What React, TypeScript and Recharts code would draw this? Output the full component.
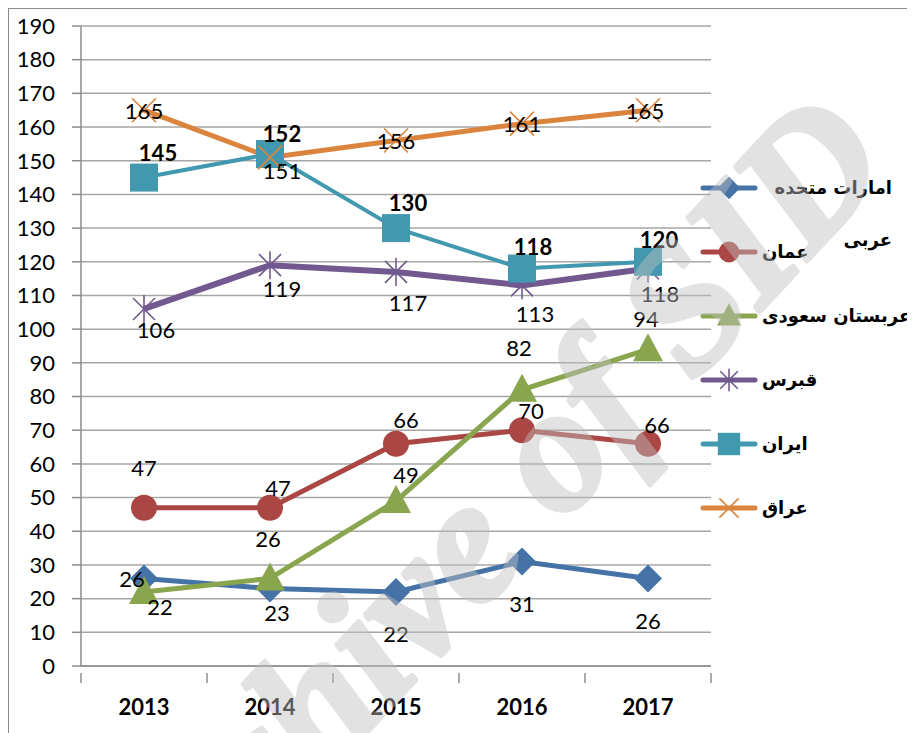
import React from "react";
import { LineChart, Line, XAxis, YAxis, CartesianGrid, LabelList } from "recharts";

const years = ["2013", "2014", "2015", "2016", "2017"];
const uae = [26, 23, 22, 31, 26];
const oman = [47, 47, 66, 70, 66];
const saudi = [22, 26, 49, 82, 94];
const cyprus = [106, 119, 117, 113, 118];
const iran = [145, 152, 130, 118, 120];
const iraq = [165, 151, 156, 161, 165];
const yTicks = [0, 10, 20, 30, 40, 50, 60, 70, 80, 90, 100, 110, 120, 130, 140, 150, 160, 170, 180, 190];

const FONT = "Lato, 'DejaVu Sans', sans-serif";

type Marker = "diamond" | "circle" | "triangle" | "star" | "square" | "x";
type Series = {
  key: string;
  name: string;
  values: number[];
  color: string;
  width: number;
  marker: Marker;
  bold?: boolean;
  // label placement relative to the point (dx, dy)
  offsets: [number, number][];
  legendWrap?: number;
};

const SERIES: Series[] = [
  { key: "uae", name: "امارات متحده عربی", values: uae, color: "#4572A7", width: 5, marker: "diamond",
    offsets: [[-12, 0], [7, 24], [0, 42], [0, 42], [0, 42]], legendWrap: 130 },
  { key: "oman", name: "عمان", values: oman, color: "#AA4643", width: 5, marker: "circle",
    offsets: [[0, -40], [8, -20], [10, -24], [9, -20], [9, -19]] },
  { key: "saudi", name: "عربستان سعودی", values: saudi, color: "#89A54E", width: 5, marker: "triangle",
    offsets: [[16, 15], [-2, -40], [10, -26], [-3, -42], [-2, -31]] },
  { key: "cyprus", name: "قبرس", values: cyprus, color: "#71588F", width: 6, marker: "star",
    offsets: [[12, 21], [12, 23], [12, 31], [13, 28], [12, 25]] },
  { key: "iran", name: "ایران", values: iran, color: "#4198AF", width: 4, marker: "square", bold: true,
    offsets: [[14, -25], [12, -21], [12, -26], [11, -22], [11, -22]] },
  { key: "iraq", name: "عراق", values: iraq, color: "#DB843D", width: 5, marker: "x",
    offsets: [[0, 0], [12, 13], [0, 0], [0, 0], [-3, 0]] },
];

const data = years.map((y, i) => {
  const row: Record<string, number | string> = { year: y };
  for (const s of SERIES) row[s.key] = s.values[i];
  return row;
});

function MarkerShape({ type, cx, cy, color, k = 1 }: { type: Marker; cx: number; cy: number; color: string; k?: number }) {
  switch (type) {
    case "diamond": {
      const h = 14 * k;
      return <polygon points={`${cx},${cy - h} ${cx + h},${cy} ${cx},${cy + h} ${cx - h},${cy}`} fill={color} />;
    }
    case "circle":
      return <circle cx={cx} cy={cy} r={13 * k} fill={color} />;
    case "triangle":
      return <polygon points={`${cx},${cy - 16 * k} ${cx + 15 * k},${cy + 12 * k} ${cx - 15 * k},${cy + 12 * k}`} fill={color} />;
    case "square":
      return <rect x={cx - 14 * k} y={cy - 14 * k} width={28 * k} height={28 * k} fill={color} />;
    case "star":
      return (
        <g stroke={color} strokeWidth={1.6}>
          <line x1={cx - 11 * k} y1={cy - 11 * k} x2={cx + 11 * k} y2={cy + 11 * k} />
          <line x1={cx - 11 * k} y1={cy + 11 * k} x2={cx + 11 * k} y2={cy - 11 * k} />
          <line x1={cx} y1={cy - 14 * k} x2={cx} y2={cy + 14 * k} />
        </g>
      );
    case "x":
      return (
        <g stroke={color} strokeWidth={1.6}>
          <line x1={cx - 12 * k} y1={cy - 12 * k} x2={cx + 12 * k} y2={cy + 12 * k} />
          <line x1={cx - 12 * k} y1={cy + 12 * k} x2={cx + 12 * k} y2={cy - 12 * k} />
        </g>
      );
  }
}

const labelContent = (s: Series) => (props: any) => {
  const { x, y, value, index } = props;
  const [dx, dy] = s.offsets[index] ?? [0, 0];
  return (
    <text x={x + dx} y={y + dy} textAnchor="middle" dominantBaseline="central"
      fontFamily={FONT} fontSize={22} fontWeight={s.bold ? 700 : 400} fill="#000">
      {value}
    </text>
  );
};

const STEP = 126;

function XTick(props: any) {
  const { x, y, payload, index } = props;
  return (
    <g>
      <line x1={x - STEP / 2} y1={y - 1} x2={x - STEP / 2} y2={y + 9} stroke="#8c8c8c" strokeWidth={1.5} />
      {index === years.length - 1 && (
        <line x1={x + STEP / 2} y1={y - 1} x2={x + STEP / 2} y2={y + 9} stroke="#8c8c8c" strokeWidth={1.5} />
      )}
      <text x={x} y={y + 32} textAnchor="middle" dominantBaseline="central"
        fontFamily={FONT} fontSize={22} fontWeight={700} fill="#000">
        {payload.value}
      </text>
    </g>
  );
}

export default function App() {
  return (
    <div style={{ position: "relative", width: 907, height: 725, fontFamily: FONT }}>
      <div style={{ position: "absolute", left: 0, top: 0, width: 920, height: 740, border: "1.5px solid #8c8c8c", boxSizing: "border-box" }} />
      <LineChart width={907} height={725} data={data} margin={{ top: 18, right: 204, bottom: 0, left: 0 }}>
        <CartesianGrid vertical={false} stroke="#a6a6a6" strokeWidth={1.5} />
        <XAxis dataKey="year" height={67} padding={{ left: 63, right: 63 }}
          axisLine={{ stroke: "#8c8c8c", strokeWidth: 1.5 }} tickLine={false} tick={<XTick />} interval={0} />
        <YAxis width={73} domain={[0, 190]} ticks={yTicks} interval={0}
          axisLine={{ stroke: "#8c8c8c", strokeWidth: 1.5 }} tickLine={{ stroke: "#8c8c8c", strokeWidth: 1.5 }}
          tickSize={9} tickMargin={17}
          tick={{ fontFamily: FONT, fontSize: 22, fill: "#000" }} />
        {SERIES.map((s) => (
          <Line key={s.key} dataKey={s.key} name={s.name} type="linear" stroke={s.color} strokeWidth={s.width}
            isAnimationActive={false}
            dot={(p: any) => <MarkerShape key={`${s.key}-${p.index}`} type={s.marker} cx={p.cx} cy={p.cy} color={s.color} />}
            activeDot={false}>
            <LabelList dataKey={s.key} content={labelContent(s)} />
          </Line>
        ))}
      </LineChart>

      {/* legend */}
      <div style={{ position: "absolute", left: 692, top: 148, width: 215 }}>
        {SERIES.map((s) => (
          <div key={s.key} style={{ position: "relative", height: 64 }}>
            <svg width={58} height={30} style={{ position: "absolute", left: 0, top: 17 }}>
              <line x1={3} y1={15} x2={55} y2={15} stroke={s.color} strokeWidth={5} strokeLinecap="round" />
              <MarkerShape type={s.marker} cx={29} cy={15} color={s.color} k={0.8} />
            </svg>
            <div style={{
              position: "absolute", left: 62, top: 6, direction: "rtl", lineHeight: "52px",
              fontSize: 18, fontWeight: 700, color: "#000", fontFamily: "'DejaVu Sans', sans-serif",
              width: s.legendWrap, whiteSpace: s.legendWrap ? "normal" : "nowrap", textAlign: "right",
            }}>
              {s.name}
            </div>
          </div>
        ))}
      </div>

      {/* watermark */}
      <svg width={907} height={725} style={{ position: "absolute", left: 0, top: 0, pointerEvents: "none" }}>
        <g opacity={0.45}>
          <text x={132} y={968} textAnchor="start" transform="rotate(-47 132 968)"
            fontFamily="'Liberation Serif', serif" fontStyle="italic" fontWeight={700} fontSize={178}
            fill="#c0c0c0" stroke="#c0c0c0" strokeWidth={5} strokeLinejoin="round">
            Archive of SID
          </text>
        </g>
      </svg>
    </div>
  );
}
